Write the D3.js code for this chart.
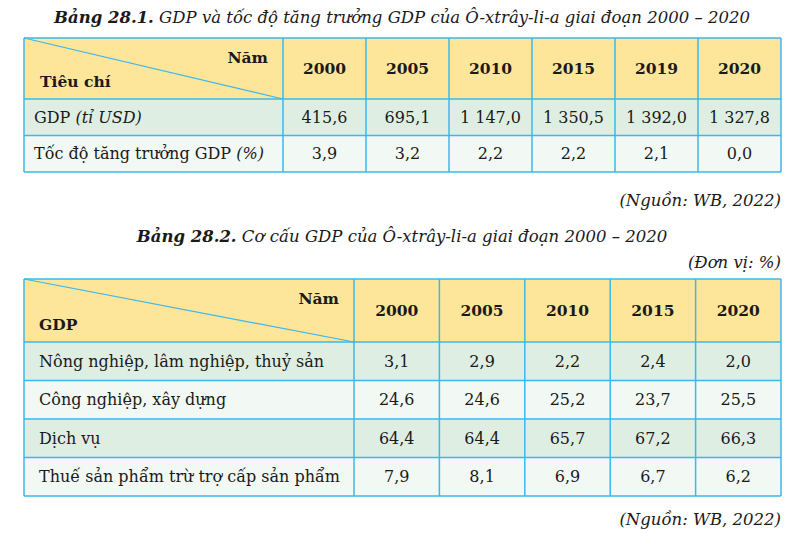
<!DOCTYPE html>
<html>
<head>
<meta charset="utf-8">
<script src="https://cdn.jsdelivr.net/npm/d3@7"></script>
<style>
  body { margin: 0; background: #fff; }
</style>
</head>
<body>
<script>
const width = 796;
const height = 533;

// Bảng 28.1
const years1 = ['2000', '2005', '2010', '2015', '2019', '2020'];
const criteria1 = [['GDP ', '(tỉ USD)'], ['Tốc độ tăng trưởng GDP ', '(%)']];
const gdpValues = [415.6, 695.1, 1147.0, 1350.5, 1392.0, 1327.8];
const growthValues = [3.9, 3.2, 2.2, 2.2, 2.1, 0.0];

// Bảng 28.2
const years2 = ['2000', '2005', '2010', '2015', '2020'];
const sectors = ['Nông nghiệp, lâm nghiệp, thuỷ sản', 'Công nghiệp, xây dựng', 'Dịch vụ', 'Thuế sản phẩm trừ trợ cấp sản phẩm'];
const agriValues = [3.1, 2.9, 2.2, 2.4, 2.0];
const industryValues = [24.6, 24.6, 25.2, 23.7, 25.5];
const serviceValues = [64.4, 64.4, 65.7, 67.2, 66.3];
const taxValues = [7.9, 8.1, 6.9, 6.7, 6.2];

const vn = d3.formatLocale({decimal: ',', thousands: '\u00a0', grouping: [3], currency: ['', '']});
const fmt = vn.format(',.1f');

const yellow = '#fde59a', green = '#dfeee3', light = '#f2f8f4', line = '#3bb8ec';
const bodySize = 16, headSize = 15.5, titleSize = 16.5;

const svg = d3.select('body')
  .append('svg')
  .attr('width', width)
  .attr('height', height)
  .attr('font-family', "'DejaVu Serif', serif")
  .attr('fill', '#1a1a1a');

function drawTable(g, opts) {
  const x = d3.scaleBand().domain(opts.years).range([opts.firstRight, opts.right]);
  const y = d3.scaleBand().domain(d3.range(opts.rows.length)).range([opts.headBottom, opts.bottom]);

  // header
  g.append('rect')
    .attr('x', opts.left).attr('y', opts.top)
    .attr('width', opts.right - opts.left).attr('height', opts.headBottom - opts.top)
    .attr('fill', yellow);

  // body rows
  g.selectAll('rect.row')
    .data(opts.rows)
    .join('rect')
      .attr('class', 'row')
      .attr('x', opts.left)
      .attr('y', (d, i) => y(i))
      .attr('width', opts.right - opts.left)
      .attr('height', y.bandwidth())
      .attr('fill', (d, i) => i % 2 === 0 ? green : light);

  // header texts
  g.append('text')
    .attr('x', opts.namX).attr('y', opts.namY)
    .attr('text-anchor', 'end')
    .attr('font-weight', 'bold')
    .attr('font-size', headSize)
    .text('Năm');
  g.append('text')
    .attr('x', opts.labelX).attr('y', opts.labelY)
    .attr('font-weight', 'bold')
    .attr('font-size', headSize)
    .text(opts.corner);

  g.selectAll('text.year')
    .data(opts.years)
    .join('text')
      .attr('class', 'year')
      .attr('x', d => x(d) + x.bandwidth() / 2)
      .attr('y', (opts.top + opts.headBottom) / 2)
      .attr('dy', '0.35em')
      .attr('text-anchor', 'middle')
      .attr('font-weight', 'bold')
      .attr('font-size', headSize)
      .text(d => d);

  // row labels
  const lab = g.selectAll('text.label')
    .data(opts.rows)
    .join('text')
      .attr('class', 'label')
      .attr('x', opts.rowX)
      .attr('y', (d, i) => y(i) + y.bandwidth() / 2)
      .attr('dy', '0.35em')
      .attr('font-size', bodySize);
  lab.append('tspan').text(d => Array.isArray(d.name) ? d.name[0] : d.name);
  lab.filter(d => Array.isArray(d.name))
    .append('tspan').attr('font-style', 'italic').text(d => d.name[1]);

  // values
  opts.rows.forEach((r, i) => {
    g.selectAll('text.v' + i)
      .data(r.values)
      .join('text')
        .attr('class', 'v' + i)
        .attr('x', (d, j) => x(opts.years[j]) + x.bandwidth() / 2)
        .attr('y', y(i) + y.bandwidth() / 2)
        .attr('dy', '0.35em')
        .attr('text-anchor', 'middle')
        .attr('font-size', bodySize)
        .text(d => fmt(d));
  });

  // grid lines
  const hs = [opts.top, opts.headBottom].concat(d3.range(opts.rows.length).map(i => y(i) + y.bandwidth()));
  g.selectAll('line.h')
    .data(hs)
    .join('line')
      .attr('class', 'h')
      .attr('x1', opts.left).attr('x2', opts.right)
      .attr('y1', d => d).attr('y2', d => d)
      .attr('stroke', line).attr('stroke-width', 1.5);
  const vs = [opts.left, opts.firstRight].concat(opts.years.map(d => x(d) + x.bandwidth()));
  g.selectAll('line.v')
    .data(vs)
    .join('line')
      .attr('class', 'v')
      .attr('x1', d => d).attr('x2', d => d)
      .attr('y1', opts.top).attr('y2', opts.bottom)
      .attr('stroke', line).attr('stroke-width', 1.5);
  g.append('line')
    .attr('x1', opts.left).attr('y1', opts.top)
    .attr('x2', opts.firstRight).attr('y2', opts.headBottom)
    .attr('stroke', line).attr('stroke-width', 1.2);
}

function title(y, num, rest) {
  const t = svg.append('text')
    .attr('x', 402).attr('y', y)
    .attr('text-anchor', 'middle')
    .attr('font-size', titleSize)
    .attr('font-style', 'italic');
  t.append('tspan').attr('font-weight', 'bold').text(num);
  t.append('tspan').text(rest);
}

function note(y, txt) {
  svg.append('text')
    .attr('x', 781).attr('y', y)
    .attr('text-anchor', 'end')
    .attr('font-size', titleSize)
    .attr('font-style', 'italic')
    .text(txt);
}

title(23, 'Bảng 28.1.', ' GDP và tốc độ tăng trưởng GDP của Ô-xtrây-li-a giai đoạn 2000 – 2020');

drawTable(svg.append('g'), {
  years: years1,
  rows: [
    {name: criteria1[0], values: gdpValues},
    {name: criteria1[1], values: growthValues}
  ],
  corner: 'Tiêu chí',
  left: 24, right: 781, firstRight: 283,
  top: 38, headBottom: 99, bottom: 172,
  namX: 268, namY: 63, labelX: 40, labelY: 87, rowX: 34
});

note(206, '(Nguồn: WB, 2022)');

title(242, 'Bảng 28.2.', ' Cơ cấu GDP của Ô-xtrây-li-a giai đoạn 2000 – 2020');
note(268, '(Đơn vị: %)');

drawTable(svg.append('g'), {
  years: years2,
  rows: [
    {name: sectors[0], values: agriValues},
    {name: sectors[1], values: industryValues},
    {name: sectors[2], values: serviceValues},
    {name: sectors[3], values: taxValues}
  ],
  corner: 'GDP',
  left: 24, right: 781, firstRight: 354,
  top: 279, headBottom: 342, bottom: 496,
  namX: 339, namY: 304, labelX: 39, labelY: 330, rowX: 39
});

note(525, '(Nguồn: WB, 2022)');
</script>
</body>
</html>
